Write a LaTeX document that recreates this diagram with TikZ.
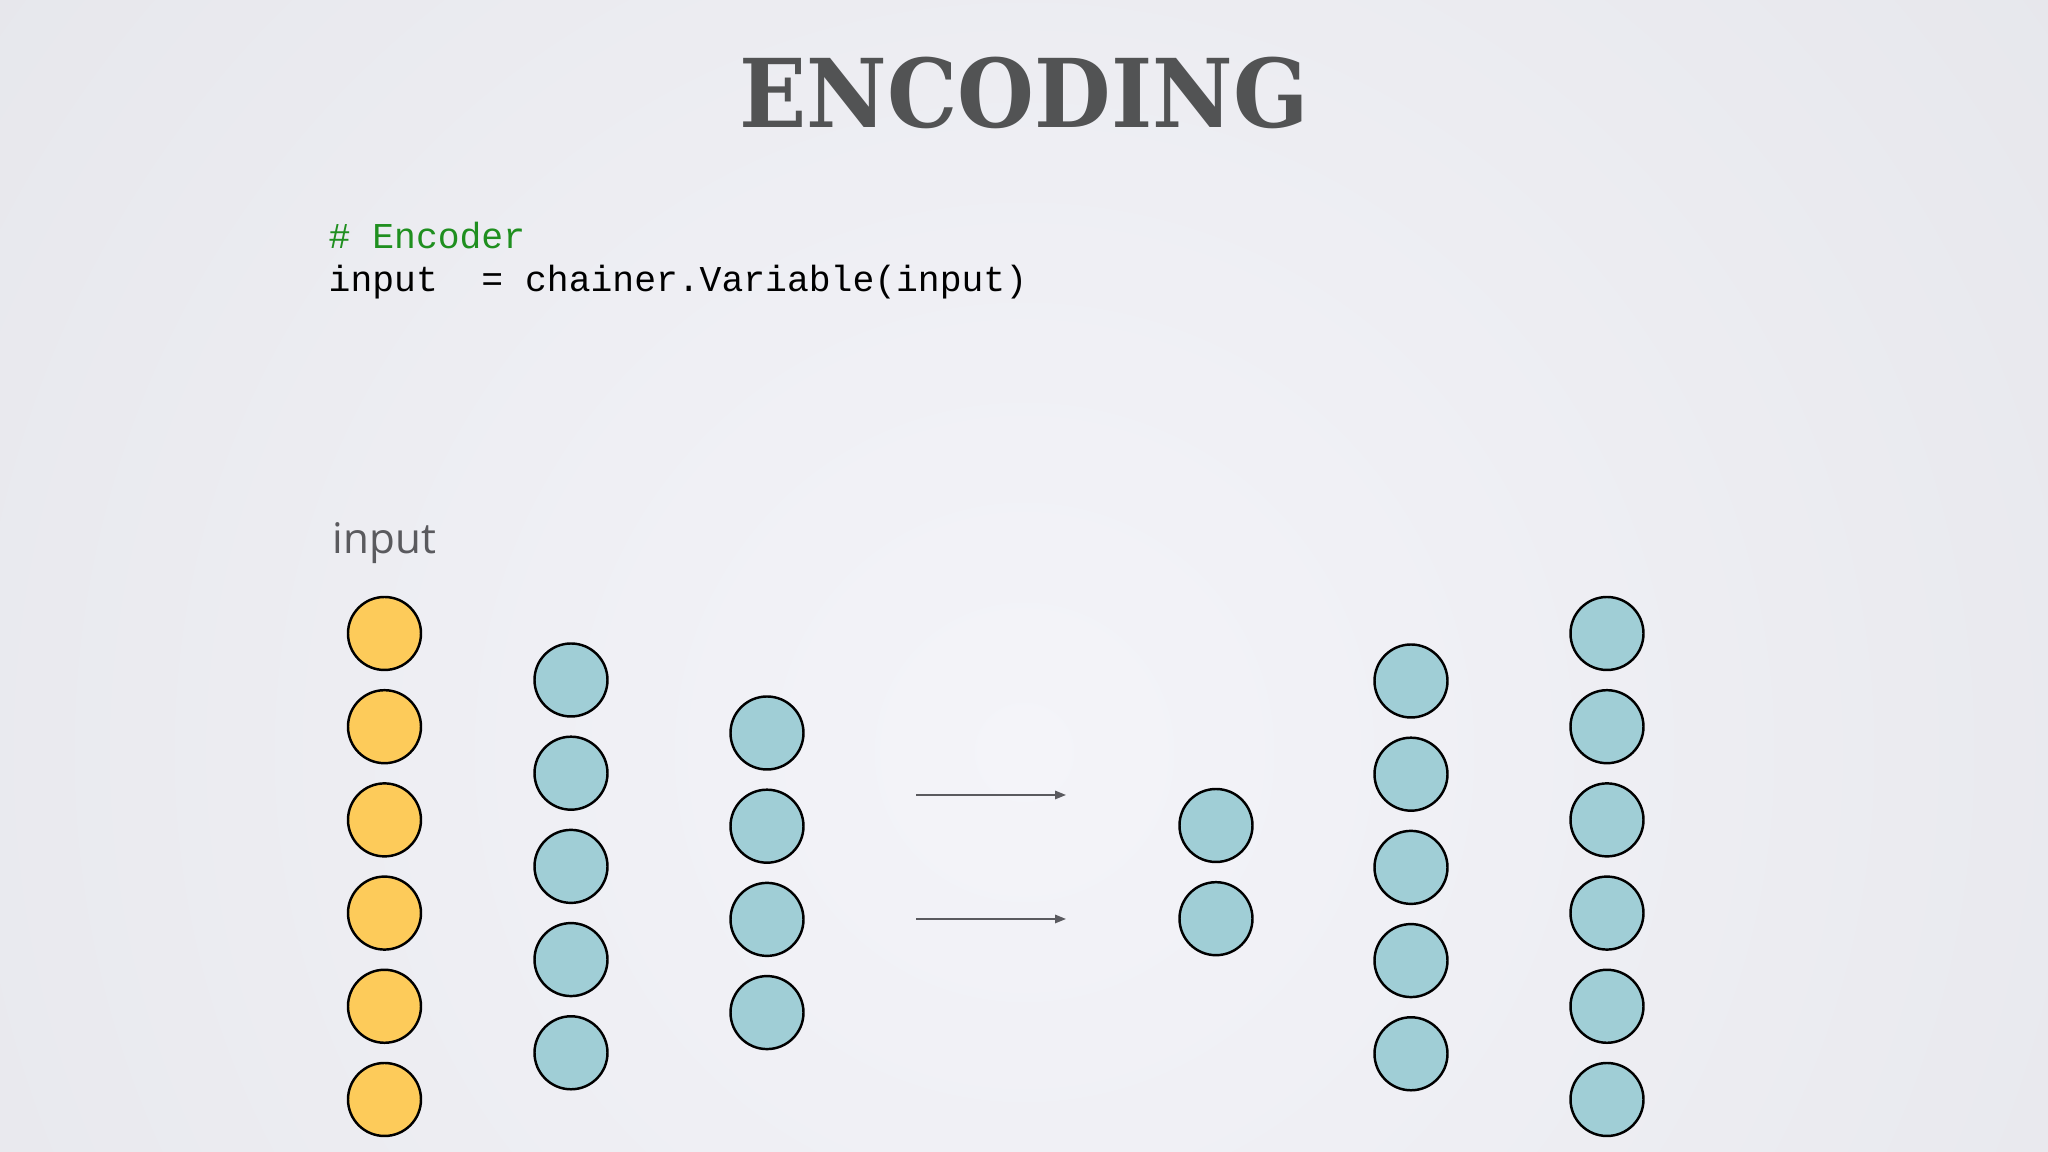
\documentclass[tikz,border=0pt]{standalone}
\usepackage{fontspec}
\usepackage{xcolor}
\usetikzlibrary{positioning}
\usetikzlibrary{arrows.meta}
\newfontfamily\titlefont{DejaVu Serif}
\newfontfamily\codefont{Liberation Mono}
\newfontfamily\labelfont{Open Sans}
\definecolor{bgouter}{HTML}{D9DADF}
\definecolor{bginner}{HTML}{F4F4F9}
\definecolor{titlegray}{HTML}{525354}
\definecolor{codegreen}{HTML}{1F8F1F}
\definecolor{labelgray}{HTML}{5A5A5E}
\definecolor{arrowgray}{HTML}{5A5A5F}
\definecolor{inyellow}{HTML}{FDCB5A}
\definecolor{unitteal}{HTML}{A0CED6}

\begin{document}
\begin{tikzpicture}
        [
        unit/.style = {circle, minimum size = 0.73cm, inner sep = 0, draw = black, line width = 0.7pt, fill = unitteal},
        inunit/.style = {unit, fill = inyellow},
        codetext/.style = {anchor = base west, inner sep = 0, font = {\codefont\fontsize{10.35}{12}\selectfont}},
        flow/.style = {-{Triangle[length = 0.11cm, width = 0.085cm]}, draw = arrowgray, line width = 0.45pt},
        node distance = 0.932cm]
        \useasboundingbox (0, 0) rectangle (20.48, 11.52);
        \begin{scope}
            \clip (0, 0) rectangle (20.48, 11.52);
            \shade[inner color = bginner, outer color = bgouter] (10.24, 4) circle (26);
        \end{scope}
        % title and code
        \node (title) [text = titlegray, font = {\titlefont\bfseries\fontsize{27}{32}\selectfont}] at (10.24, 10.595) {\scalebox{0.93}[1]{ENCODING}};
        \node (comment) [codetext, text = codegreen] at (3.28, 9.03) {\# Encoder};
        \node (codeline) [codetext] at (3.28, 8.60) {input\ \ = chainer.Variable(input)};
        \node (inlabel) [anchor = base west, inner sep = 0, text = labelgray, font = {\labelfont\fontsize{12}{14}\selectfont}] at (3.32, 5.98) {input};
        % input layer
        \node (in1) [inunit] at (3.845, 5.185) {};
        \node (in2) [inunit, below of = in1] {};
        \node (in3) [inunit, below of = in2] {};
        \node (in4) [inunit, below of = in3] {};
        \node (in5) [inunit, below of = in4] {};
        \node (in6) [inunit, below of = in5] {};
        % encoder layers
        \node (encA1) [unit] at (5.71, 4.72) {};
        \node (encA2) [unit, below of = encA1] {};
        \node (encA3) [unit, below of = encA2] {};
        \node (encA4) [unit, below of = encA3] {};
        \node (encA5) [unit, below of = encA4] {};
        \node (encB1) [unit] at (7.67, 4.19) {};
        \node (encB2) [unit, below of = encB1] {};
        \node (encB3) [unit, below of = encB2] {};
        \node (encB4) [unit, below of = encB3] {};
        % code layer
        \node (code1) [unit] at (12.16, 3.265) {};
        \node (code2) [unit, below of = code1] {};
        % decoder layers
        \node (decA1) [unit] at (14.11, 4.71) {};
        \node (decA2) [unit, below of = decA1] {};
        \node (decA3) [unit, below of = decA2] {};
        \node (decA4) [unit, below of = decA3] {};
        \node (decA5) [unit, below of = decA4] {};
        \node (out1) [unit] at (16.07, 5.185) {};
        \node (out2) [unit, below of = out1] {};
        \node (out3) [unit, below of = out2] {};
        \node (out4) [unit, below of = out3] {};
        \node (out5) [unit, below of = out4] {};
        \node (out6) [unit, below of = out5] {};
        % arrows
        \coordinate (flowAs) at (9.16, 3.57);
        \coordinate (flowAe) at (10.66, 3.57);
        \coordinate (flowBs) at (9.16, 2.33);
        \coordinate (flowBe) at (10.66, 2.33);
        \draw[flow] (flowAs) -- (flowAe);
        \draw[flow] (flowBs) -- (flowBe);
    \end{tikzpicture}
\end{document}
